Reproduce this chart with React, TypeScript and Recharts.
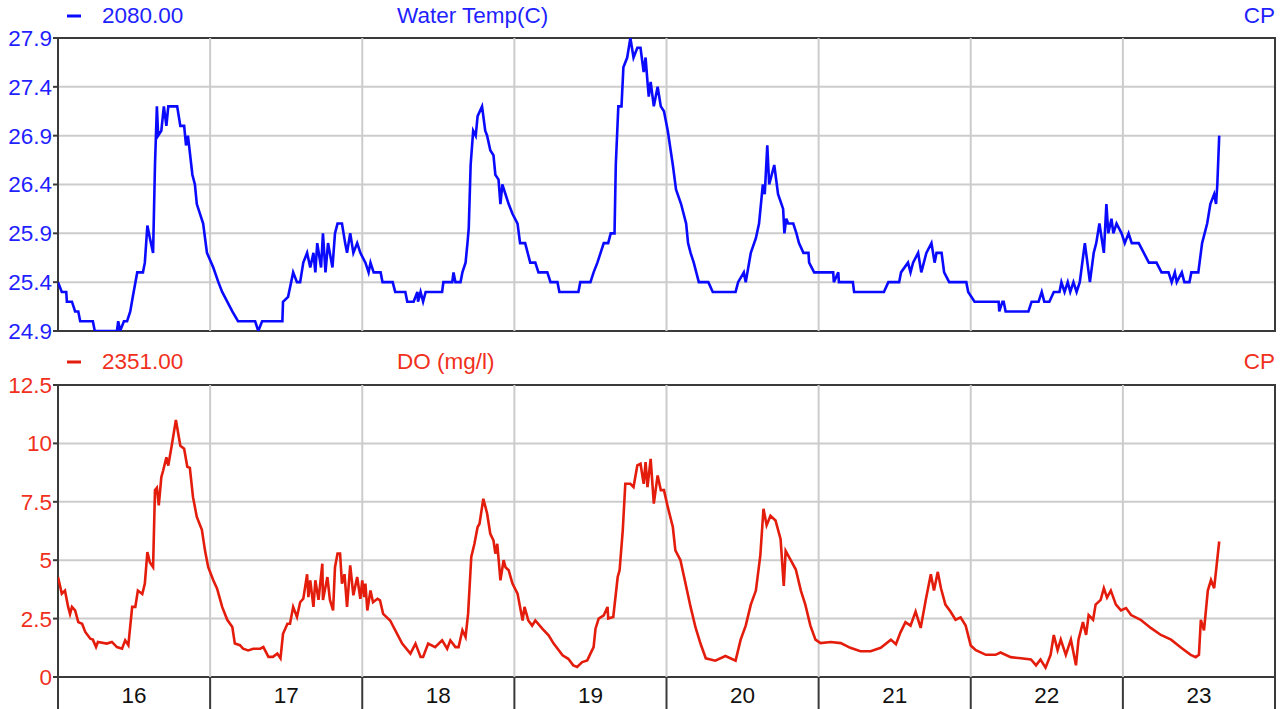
import React from 'react';
import { LineChart, Line, XAxis, YAxis, CartesianGrid, ReferenceLine, ReferenceArea } from 'recharts';

// Hours since day 16, 00:00
const dayBoundaries = [0, 24, 48, 72, 96, 120, 144, 168, 192];
const dayLabels = ['16', '17', '18', '19', '20', '21', '22', '23'];
const dayMidpoints = [12, 36, 60, 84, 108, 132, 156, 180];

const tempTicks = [24.9, 25.4, 25.9, 26.4, 26.9, 27.4, 27.9];
const doTicks = [0, 2.5, 5, 7.5, 10, 12.5];

const tempHours = [
  0, 0.6, 1.3, 1.4, 2.2, 2.7, 3.2, 3.5, 5.5, 5.8, 9.3, 9.5, 9.8, 10.4, 10.9, 11.4, 11.8, 12.5, 13.4, 13.7,
  14.1, 14.5, 15.0, 15.3, 15.6, 15.8, 16.3, 16.7, 17.1, 17.4, 18.8, 19.3, 19.9, 20.2, 20.5, 21.2, 21.6, 21.9, 22.9, 23.5,
  24.5, 25.3, 25.9, 26.7, 27.5, 28.4, 31.1, 31.6, 32.2, 35.4, 35.5, 36.3, 37.1, 37.7, 38.2, 38.7, 39.3, 39.8, 40.3, 40.6,
  40.9, 41.5, 41.8, 42.2, 42.6, 43.3, 43.7, 44.1, 44.8, 45.3, 45.6, 46.1, 46.6, 47.2, 47.7, 48.5, 49.0, 49.3, 49.8, 50.9,
  51.2, 52.8, 53.2, 54.8, 55.1, 56.1, 56.7, 56.8, 57.2, 57.6, 58.0, 60.6, 60.8, 62.2, 62.4, 62.7, 63.5, 63.8, 64.3, 64.6,
  64.8, 65.1, 65.5, 65.9, 66.2, 66.9, 67.4, 67.7, 68.2, 68.7, 69.0, 69.5, 69.8, 70.1, 70.6, 71.1, 71.7, 72.5, 72.9, 73.7,
  74.5, 75.3, 75.8, 77.2, 77.7, 78.8, 79.1, 82.1, 82.4, 84.0, 84.5, 85.1, 85.6, 86.1, 86.8, 87.2, 87.8, 88.0, 88.4, 88.9,
  89.2, 89.8, 90.3, 90.8, 91.4, 91.9, 92.4, 92.7, 93.0, 93.2, 93.5, 94.0, 94.6, 95.1, 95.6, 96.2, 97.0, 97.5, 98.3, 99.1,
  99.4, 99.8, 100.3, 101.1, 102.6, 103.3, 106.9, 107.3, 108.2, 108.5, 109.3, 110.1, 110.6, 111.2, 111.5, 111.9, 112.2, 113.0, 113.6, 114.4,
  114.6, 114.9, 115.2, 116.0, 116.5, 116.9, 117.6, 118.4, 118.5, 119.3, 122.3, 122.4, 123.1, 123.2, 125.4, 125.6, 130.3, 131.0, 132.7, 133.0,
  134.1, 134.5, 134.9, 135.7, 136.2, 137.0, 137.8, 138.3, 138.6, 139.4, 139.8, 140.6, 143.3, 143.6, 144.6, 148.4, 148.5, 149.0, 149.2, 149.5,
  153.1, 153.6, 154.7, 155.2, 155.6, 156.4, 157.1, 158.0, 158.3, 158.8, 159.3, 159.7, 160.2, 160.7, 161.2, 162.0, 162.8, 163.4, 163.8, 164.3,
  165.0, 165.4, 165.7, 166.2, 166.5, 167.0, 167.8, 168.3, 168.9, 169.4, 170.5, 171.3, 172.1, 173.3, 174.1, 175.2, 175.7, 176.2, 176.5, 177.3,
  177.7, 178.5, 178.8, 179.9, 180.5, 181.3, 181.8, 182.4, 182.7, 182.9, 183.2,
];
const tempValues = [
  25.4, 25.3, 25.3, 25.2, 25.2, 25.1, 25.1, 25.0, 25.0, 24.9, 24.9, 25.0, 24.9, 25.0, 25.0, 25.1, 25.25, 25.5, 25.5, 25.6,
  25.98, 25.85, 25.7, 26.6, 27.2, 26.9, 26.95, 27.2, 27.0, 27.2, 27.2, 27.0, 27.0, 26.8, 26.9, 26.5, 26.4, 26.2, 26.0, 25.7,
  25.55, 25.4, 25.3, 25.2, 25.1, 25.0, 25.0, 24.9, 25.0, 25.0, 25.2, 25.25, 25.5, 25.4, 25.4, 25.6, 25.7, 25.55, 25.7, 25.5,
  25.8, 25.55, 25.9, 25.5, 25.8, 25.55, 25.9, 26.0, 26.0, 25.8, 25.7, 25.9, 25.7, 25.8, 25.7, 25.6, 25.5, 25.6, 25.5, 25.5,
  25.4, 25.4, 25.3, 25.3, 25.2, 25.2, 25.3, 25.2, 25.3, 25.2, 25.3, 25.3, 25.4, 25.4, 25.5, 25.4, 25.4, 25.5, 25.6, 25.8,
  25.95, 26.6, 26.95, 26.9, 27.1, 27.2, 26.95, 26.9, 26.75, 26.7, 26.5, 26.45, 26.2, 26.4, 26.3, 26.2, 26.1, 26.0, 25.8, 25.8,
  25.6, 25.6, 25.5, 25.5, 25.4, 25.4, 25.3, 25.3, 25.4, 25.4, 25.5, 25.6, 25.7, 25.8, 25.8, 25.9, 25.9, 26.6, 27.2, 27.2,
  27.6, 27.7, 27.9, 27.7, 27.8, 27.8, 27.55, 27.7, 27.45, 27.3, 27.45, 27.2, 27.4, 27.2, 27.15, 26.95, 26.6, 26.35, 26.2, 26.0,
  25.8, 25.7, 25.6, 25.4, 25.4, 25.3, 25.3, 25.4, 25.5, 25.4, 25.7, 25.85, 26.0, 26.4, 26.3, 26.8, 26.4, 26.6, 26.3, 26.15,
  25.9, 26.05, 26.0, 26.0, 25.9, 25.8, 25.7, 25.7, 25.6, 25.5, 25.5, 25.4, 25.5, 25.4, 25.4, 25.3, 25.3, 25.4, 25.4, 25.5,
  25.6, 25.5, 25.6, 25.7, 25.5, 25.7, 25.8, 25.6, 25.7, 25.7, 25.5, 25.4, 25.4, 25.3, 25.2, 25.2, 25.1, 25.2, 25.2, 25.1,
  25.1, 25.2, 25.2, 25.3, 25.2, 25.2, 25.3, 25.3, 25.4, 25.3, 25.4, 25.3, 25.4, 25.3, 25.4, 25.8, 25.4, 25.7, 25.8, 26.0,
  25.7, 26.2, 25.9, 26.05, 25.9, 26.0, 25.9, 25.8, 25.9, 25.8, 25.8, 25.7, 25.6, 25.6, 25.5, 25.5, 25.4, 25.5, 25.4, 25.5,
  25.4, 25.4, 25.5, 25.5, 25.8, 26.0, 26.2, 26.3, 26.2, 26.4, 26.9,
];

const doHours = [
  0, 0.6, 1.1, 1.6, 1.9, 2.2, 2.7, 3.2, 3.8, 4.3, 5.1, 5.5, 6.0, 6.3, 7.7, 8.5, 9.3, 10.1, 10.6, 11.1,
  11.7, 12.2, 12.6, 13.3, 13.7, 14.1, 14.5, 15.0, 15.3, 15.6, 15.9, 16.3, 16.6, 17.1, 17.4, 18.0, 18.6, 19.3, 19.9, 20.4,
  20.8, 21.3, 21.9, 22.7, 23.2, 23.7, 24.5, 25.1, 25.9, 26.7, 27.5, 27.9, 28.7, 29.2, 30.0, 30.8, 31.9, 32.4, 33.2, 33.9,
  34.6, 35.1, 35.5, 36.2, 36.6, 37.1, 37.7, 38.2, 38.7, 39.3, 39.5, 39.8, 40.3, 40.6, 41.1, 41.7, 41.8, 42.5, 42.9, 43.4,
  43.7, 44.1, 44.5, 44.8, 45.2, 45.6, 46.1, 46.6, 47.2, 47.7, 48.0, 48.3, 48.5, 48.8, 49.3, 49.7, 50.4, 50.8, 51.3, 52.4,
  53.5, 54.3, 55.6, 56.4, 57.2, 57.6, 58.4, 59.5, 60.6, 61.4, 61.9, 62.7, 63.2, 63.8, 64.3, 64.7, 65.2, 65.7, 66.2, 66.5,
  67.1, 67.7, 68.2, 68.7, 69.0, 69.3, 69.8, 70.3, 70.6, 71.1, 71.7, 72.5, 73.3, 73.6, 74.2, 74.8, 75.3, 76.4, 77.4, 78.2,
  79.6, 80.5, 81.3, 81.9, 82.7, 83.5, 84.0, 84.5, 84.8, 85.3, 86.1, 86.7, 86.8, 87.6, 88.3, 88.6, 89.1, 89.5, 90.3, 90.8,
  91.4, 91.9, 92.4, 92.7, 93.0, 93.5, 94.0, 94.6, 95.1, 95.6, 96.2, 97.0, 97.4, 98.2, 99.0, 99.8, 100.6, 101.4, 102.2, 103.7,
  105.3, 106.9, 107.7, 108.5, 109.3, 110.1, 110.8, 111.3, 111.8, 112.4, 113.2, 114.0, 114.5, 114.8, 115.6, 116.4, 117.2, 117.9, 118.7, 119.5,
  120.3, 121.9, 123.5, 125.0, 126.6, 128.2, 129.8, 131.4, 132.2, 132.9, 133.7, 134.5, 135.3, 136.1, 136.9, 137.7, 138.2, 138.8, 139.3, 140.0,
  140.8, 141.6, 142.4, 143.2, 144.0, 144.8, 146.4, 147.9, 148.7, 150.3, 151.9, 153.5, 154.3, 155.0, 155.8, 156.6, 157.1, 157.7, 158.2, 159.0,
  159.8, 160.6, 161.0, 161.7, 162.2, 162.6, 163.3, 163.7, 164.5, 165.0, 165.5, 166.1, 166.9, 167.7, 168.5, 169.3, 170.8, 172.4, 174.0, 175.6,
  177.2, 178.7, 179.5, 180.0, 180.3, 180.8, 181.4, 181.9, 182.4, 182.8, 183.2,
];
const doValues = [
  4.28, 3.57, 3.7, 3.0, 2.7, 3.0, 2.85, 2.35, 2.28, 1.93, 1.64, 1.6, 1.28, 1.5, 1.43, 1.5, 1.28, 1.21, 1.57, 1.36,
  3.0, 3.0, 3.7, 3.55, 4.0, 5.35, 4.9, 4.7, 8.0, 8.1, 7.35, 8.55, 8.85, 9.4, 9.05, 10.0, 11.0, 9.9, 9.77, 9.0,
  8.95, 7.7, 6.85, 6.3, 5.4, 4.7, 4.14, 3.78, 3.0, 2.45, 2.14, 1.43, 1.36, 1.21, 1.14, 1.21, 1.21, 1.28, 0.86, 0.86,
  1.0, 0.8, 1.85, 2.28, 2.28, 3.0, 2.57, 3.2, 3.35, 4.4, 3.42, 4.14, 3.0, 4.14, 3.3, 4.85, 3.3, 4.28, 3.3, 2.85,
  4.7, 5.28, 5.28, 4.0, 4.4, 3.0, 4.78, 3.5, 4.28, 3.35, 4.14, 3.42, 4.0, 2.85, 3.7, 3.2, 3.35, 3.28, 2.7, 2.42,
  1.85, 1.43, 1.0, 1.43, 0.86, 0.86, 1.43, 1.28, 1.57, 1.21, 1.57, 1.28, 1.28, 2.0, 1.71, 2.71, 5.14, 5.7, 6.42, 6.56,
  7.63, 7.0, 6.13, 5.85, 5.28, 5.7, 4.14, 5.0, 4.7, 4.57, 4.0, 3.57, 2.42, 3.0, 2.42, 2.2, 2.42, 2.07, 1.78, 1.43,
  0.93, 0.78, 0.5, 0.43, 0.64, 0.71, 1.0, 1.28, 2.07, 2.5, 2.64, 3.0, 2.5, 2.57, 4.28, 4.57, 6.28, 8.27, 8.27, 8.13,
  9.06, 9.13, 8.27, 9.2, 8.13, 9.34, 7.42, 8.63, 8.0, 8.0, 7.28, 6.42, 5.42, 5.0, 4.0, 3.0, 2.1, 1.4, 0.8, 0.7,
  0.9, 0.7, 1.6, 2.2, 3.1, 3.7, 5.2, 7.2, 6.5, 6.9, 6.7, 5.9, 3.9, 5.4, 5.0, 4.6, 3.7, 3.1, 2.2, 1.6,
  1.45, 1.5, 1.45, 1.25, 1.1, 1.1, 1.25, 1.6, 1.4, 1.9, 2.35, 2.2, 2.8, 2.1, 3.3, 4.4, 3.7, 4.5, 3.8, 3.1,
  2.8, 2.45, 2.55, 2.2, 1.35, 1.15, 0.95, 0.95, 1.05, 0.85, 0.8, 0.75, 0.5, 0.75, 0.4, 0.95, 1.8, 1.15, 1.6, 0.95,
  1.6, 0.5, 1.6, 2.35, 1.8, 2.65, 2.45, 3.1, 3.3, 3.8, 3.4, 3.7, 3.1, 2.85, 2.95, 2.65, 2.45, 2.1, 1.8, 1.6,
  1.25, 0.95, 0.85, 0.95, 2.45, 2.0, 3.7, 4.15, 3.8, 4.8, 5.8,
];

const tempData = tempHours.map((h, i) => ({ h, v: tempValues[i] }));
const doData = doHours.map((h, i) => ({ h, v: doValues[i] }));

const BLUE_LINE = '#0a0aff';
const BLUE_TEXT = '#1f1fff';
const RED_LINE = '#e31c0c';
const RED_TEXT = '#f0301c';
const GRID = '#cccccc';
const FRAME = '#3a3a3a';
const FONT = '"Liberation Sans", Arial, sans-serif';
const FS = 22.5;

const DayTick = (props: any) => {
  const { x, y, payload } = props;
  const v = payload.value as number;
  if (v % 24 === 0) {
    return <line x1={x} x2={x} y1={y} y2={y + 32} stroke={FRAME} strokeWidth={2} />;
  }
  return (
    <text x={x} y={y + 26} textAnchor="middle" fill="#111" fontSize={FS} fontFamily={FONT}>
      {dayLabels[Math.floor(v / 24)]}
    </text>
  );
};

const fmtTemp = (v: number) => v.toFixed(1);
const fmtDo = (v: number) => String(v);

export default function App() {
  return (
    <div style={{ position: 'absolute', left: 0, top: 0, width: 1287, height: 709, background: '#fff', fontFamily: FONT }}>
      <svg width={1287} height={709} style={{ position: 'absolute', left: 0, top: 0 }}>
        <line x1={67} x2={81} y1={16} y2={16} stroke={BLUE_LINE} strokeWidth={3} />
        <text x={102} y={23} fill={BLUE_TEXT} fontSize={FS} fontFamily={FONT}>2080.00</text>
        <text x={397} y={23} fill={BLUE_TEXT} fontSize={FS} fontFamily={FONT}>Water Temp(C)</text>
        <text x={1275} y={23} fill={BLUE_TEXT} fontSize={FS} fontFamily={FONT} textAnchor="end">CP</text>
        <line x1={67} x2={81} y1={362} y2={362} stroke={RED_LINE} strokeWidth={3} />
        <text x={102} y={369} fill={RED_TEXT} fontSize={FS} fontFamily={FONT}>2351.00</text>
        <text x={397} y={369} fill={RED_TEXT} fontSize={FS} fontFamily={FONT}>DO (mg/l)</text>
        <text x={1275} y={369} fill={RED_TEXT} fontSize={FS} fontFamily={FONT} textAnchor="end">CP</text>
      </svg>
      <div style={{ position: 'absolute', left: 0, top: 0 }}>
        <LineChart width={1287} height={345} data={tempData} margin={{ top: 38, right: 12, bottom: 14, left: 0 }}>
          <CartesianGrid vertical={false} stroke={GRID} strokeWidth={2} />
          <XAxis type="number" dataKey="h" domain={[0, 192]} ticks={dayBoundaries} hide allowDataOverflow />
          <YAxis
            type="number"
            domain={[24.9, 27.9]}
            ticks={tempTicks}
            interval={0}
            width={58}
            axisLine={false}
            tickSize={5}
            tickMargin={1}
            tickLine={{ stroke: FRAME, strokeWidth: 2 }}
            tickFormatter={fmtTemp}
            tick={{ fill: BLUE_TEXT, fontSize: FS, fontFamily: FONT }}
            allowDataOverflow
          />
          {dayBoundaries.slice(1, -1).map((d) => (
            <ReferenceLine key={d} x={d} stroke={GRID} strokeWidth={2} />
          ))}
          <ReferenceArea x1={0} x2={192} y1={24.9} y2={27.9} fill="none" fillOpacity={0} stroke={FRAME} strokeWidth={2} />
          <Line type="linear" dataKey="v" stroke={BLUE_LINE} strokeWidth={2.6} dot={false} isAnimationActive={false} />
        </LineChart>
      </div>
      <div style={{ position: 'absolute', left: 0, top: 345 }}>
        <LineChart width={1287} height={364} data={doData} margin={{ top: 40, right: 12, bottom: 0, left: 0 }}>
          <CartesianGrid vertical={false} stroke={GRID} strokeWidth={2} />
          <XAxis
            type="number"
            dataKey="h"
            domain={[0, 192]}
            ticks={[...dayBoundaries, ...dayMidpoints].sort((a, b) => a - b)}
            interval={0}
            height={32}
            axisLine={false}
            tickLine={false}
            tickSize={0}
            tickMargin={0}
            tick={<DayTick />}
            allowDataOverflow
          />
          <YAxis
            type="number"
            domain={[0, 12.5]}
            ticks={doTicks}
            interval={0}
            width={58}
            axisLine={false}
            tickSize={5}
            tickMargin={1}
            tickLine={{ stroke: FRAME, strokeWidth: 2 }}
            tickFormatter={fmtDo}
            tick={{ fill: RED_TEXT, fontSize: FS, fontFamily: FONT }}
            allowDataOverflow
          />
          {dayBoundaries.slice(1, -1).map((d) => (
            <ReferenceLine key={d} x={d} stroke={GRID} strokeWidth={2} />
          ))}
          <ReferenceArea x1={0} x2={192} y1={0} y2={12.5} fill="none" fillOpacity={0} stroke={FRAME} strokeWidth={2} />
          <Line type="linear" dataKey="v" stroke={RED_LINE} strokeWidth={2.6} dot={false} isAnimationActive={false} />
        </LineChart>
      </div>
    </div>
  );
}
